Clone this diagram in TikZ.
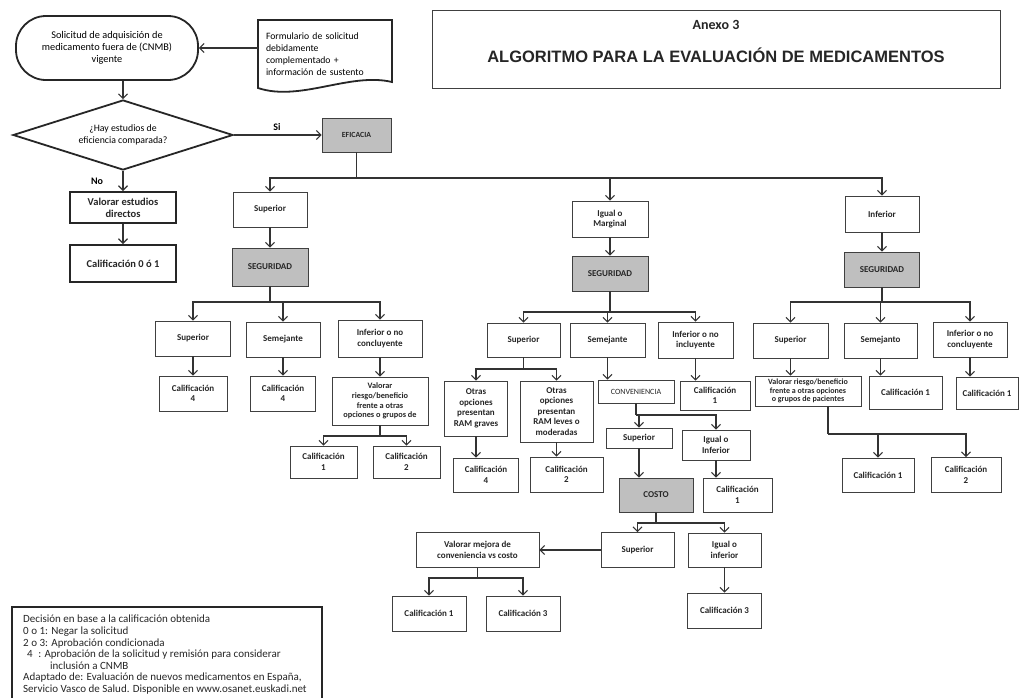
\documentclass[tikz,border=0pt]{standalone}
\usepackage{fontspec}
\setmainfont{Carlito}
\newfontfamily\arialfont{Liberation Sans}
\usetikzlibrary{arrows.meta,shapes.geometric}

\begin{document}
\begin{tikzpicture}[x=1pt, y=-1pt,
  font=\fontsize{9}{10.5}\selectfont,
  sz/.style 2 args={minimum width=#1pt, minimum height=#2pt},
  box/.style={draw=black!75, line width=0.8pt, fill=white, align=center,
              inner sep=1pt, text=black!85, font=\fontsize{9}{10.5}\selectfont\bfseries},
  gbox/.style={box, fill=gray!50, font=\fontsize{9}{10.5}\selectfont\bfseries},
  tbox/.style={box, draw=black!85, line width=2pt, font=\fontsize{10.5}{12}\selectfont\bfseries},
  arr/.style={-{Straight Barb[length=4.5pt,width=9pt]}, line width=1.1pt, draw=black!80},
  ln/.style={line width=1.1pt, draw=black!80},
  thickline/.style={line width=1.8pt, draw=black!85},
]
\useasboundingbox (0,0) rectangle (1020,697);
\fill[white] (0,0) rectangle (1020,697);

% ---- Title ----
\node[draw=black!75, line width=0.9pt, sz={568}{78}] (titbox) at (716,49) {};
\node[font=\fontsize{14}{16}\selectfont\bfseries, text=black!85] (anexo) at (716,25) {Anexo 3};
\node[font=\arialfont\fontsize{16.5}{19}\selectfont\bfseries, text=black!85] (titulo) at (716,55)
  {ALGORITMO PARA LA EVALUACIÓN DE MEDICAMENTOS};

% ---- Entry ----
\node[draw=black!85, line width=1.8pt, rounded corners=30pt, align=center, sz={182}{64},
      font=\fontsize{10.3}{11.8}\selectfont] (solic) at (107,48)
  {Solicitud de adquisición de\\medicamento fuera de (CNMB)\\vigente};
\node[align=left, sz={134}{68}, text width=118pt, font=\fontsize{9.7}{12}\selectfont] (form) at (325,54)
  {Formulario de solicitud\\debidamente\\complementado +\\información de sustento};
\draw[thickline] (258,88) -- (258,20) -- (392,20) -- (392,82)
  .. controls (350,72) and (300,102) .. (258,88) -- cycle;
\draw[arr] (form.west |- solic.east) -- (solic.east);

% ---- Decision ----
\node[diamond, aspect=3.1, draw=black!85, line width=1.8pt, inner sep=0pt, align=center,
      sz={220}{70}, font=\fontsize{9.8}{12.5}\selectfont] (hay) at (123,135)
  {¿Hay estudios de\\eficiencia comparada?};
\draw[arr] (hay.north |- solic.south) -- (hay.north);

\node[gbox, sz={69}{34}, font=\fontsize{7.8}{9}\selectfont\bfseries] (efic) at (356.5,135) {EFICACIA};
\draw[arr] (hay.east) -- (efic.west);
\node[font=\fontsize{10}{11}\selectfont\bfseries] (si) at (277,127) {Si};

\node[font=\fontsize{10}{11}\selectfont\bfseries] (no) at (97,181) {No};
\node[tbox, sz={106}{31}] (valdir) at (123,207.5) {Valorar estudios\\directos};
\node[tbox, sz={106}{37}] (cal01) at (123,263.5) {Calificación 0 ó 1};
\draw[arr] (hay.south) -- (valdir.north);
\draw[arr] (valdir) -- (cal01);

% ---- Eficacia level ----
\node[box, sz={74}{35}] (sup1) at (270,209.5) {Superior};
\node[box, sz={76}{36}] (igm) at (610,219) {Igual o\\Marginal};
\node[box, sz={74}{36}] (inf) at (882,214) {Inferior};
\node[gbox, sz={76}{38}] (seg1) at (270,267) {SEGURIDAD};
\node[gbox, sz={76}{35}] (seg2) at (610,273.5) {SEGURIDAD};
\node[gbox, sz={75}{35}] (seg3) at (882,269.5) {SEGURIDAD};

\coordinate (bEf) at (356.5,178);
\draw[ln] (efic.south) -- (bEf);
\foreach \n in {sup1, igm, inf}
  \draw[arr] (bEf) -| (\n.north);
\foreach \a/\b in {sup1/seg1, igm/seg2, inf/seg3}
  \draw[arr] (\a) -- (\b);

% ---- Left branch (Superior) ----
\node[box, sz={75}{35}] (sup2) at (193,338.5) {Superior};
\node[box, sz={74}{35}] (sem2) at (283,339.5) {Semejante};
\node[box, sz={84}{37}] (inc2) at (380,338.5) {Inferior o no\\concluyente};
\node[box, sz={68}{35}] (c4a) at (193,393.5) {Calificación\\4};
\node[box, sz={65}{35}] (c4b) at (283,393.5) {Calificación\\4};
\node[box, sz={96}{48}, font=\fontsize{8.3}{9.7}\selectfont\bfseries] (vr2) at (380,401)
  {Valorar\\riesgo/beneficio\\frente a otras\\opciones o grupos de};
\node[box, sz={67}{32}] (c1a) at (323.5,462) {Calificación\\1};
\node[box, sz={67}{32}] (c2a) at (406.5,462) {Calificación\\2};

\coordinate (bS1) at (270,302);
\draw[ln] (seg1.south) -- (bS1);
\foreach \n in {sup2, sem2, inc2}
  \draw[arr] (bS1) -| (\n.north);
\foreach \a/\b in {sup2/c4a, sem2/c4b, inc2/vr2}
  \draw[arr] (\a) -- (\b);
\coordinate (bV2) at (380,436);
\draw[ln] (vr2.south) -- (bV2);
\foreach \n in {c1a, c2a}
  \draw[arr] (bV2) -| (\n.north);

% ---- Middle branch (Igual o Marginal) ----
\node[box, sz={73}{34}] (sup3) at (523.5,340) {Superior};
\node[box, sz={75}{34}] (sem3) at (607.5,340) {Semejante};
\node[box, sz={75}{36}] (inc3) at (695.5,340) {Inferior o no\\incluyente};
\node[box, sz={63}{55}] (ot1) at (476,408.5) {Otras\\opciones\\presentan\\RAM graves};
\node[box, sz={73}{61}] (ot2) at (556.5,411.5) {Otras\\opciones\\presentan\\RAM leves o\\moderadas};
\node[box, sz={65}{34}] (c4c) at (486,475) {Calificación\\4};
\node[box, sz={73}{35}] (c2c) at (566.5,474.5) {Calificación\\2};
\node[box, sz={76}{23}, font=\fontsize{8}{10}\selectfont] (conv) at (636,391.5) {CONVENIENCIA};
\node[box, sz={70}{29}] (c1c) at (715,395.5) {Calificación\\1};
\node[box, sz={66}{20}] (sup4) at (639,438) {Superior};
\node[box, sz={68}{30}] (igi4) at (716,445) {Igual o\\Inferior};
\node[gbox, sz={74}{34}] (costo) at (656,495) {COSTO};
\node[box, sz={69}{34}] (c1d) at (737.5,495) {Calificación\\1};
\node[box, sz={73}{35}] (sup5) at (637.5,550) {Superior};
\node[box, sz={73}{34}] (igi5) at (724.5,550) {Igual o\\inferior};
\node[box, sz={123}{35}] (vm5) at (477.5,550) {Valorar mejora de\\conveniencia vs costo};
\node[box, sz={74}{35}] (c1e) at (429,613.5) {Calificación 1};
\node[box, sz={74}{35}] (c3e) at (523,613.5) {Calificación 3};
\node[box, sz={74}{35}] (c3f) at (724.5,610.5) {Calificación 3};

\coordinate (bS2) at (610,312);
\draw[ln] (seg2.south) -- (bS2);
\foreach \n in {sup3, sem3, inc3}
  \draw[arr] (bS2) -| (\n.north);
\coordinate (bSup3) at (523.5,369);
\draw[ln] (sup3.south) -- (bSup3);
\foreach \n in {ot1, ot2}
  \draw[arr] (bSup3) -| (\n.north);
\draw[arr] (ot1.south) -- (ot1.south |- c4c.north);
\draw[arr] (ot2.south) -- (ot2.south |- c2c.north);
\draw[arr] (sem3.south) -- (sem3.south |- conv.north);
\draw[arr] (inc3.south) -- (inc3.south |- c1c.north);
\coordinate (bConv) at (636,415);
\draw[ln] (conv.south) -- (bConv);
\foreach \n in {sup4, igi4}
  \draw[arr] (bConv) -| (\n.north);
\draw[arr] (sup4.south) -- (sup4.south |- costo.north);
\draw[arr] (igi4.south) -- (igi4.south |- c1d.north);
\coordinate (bCost) at (656,523);
\draw[ln] (costo.south) -- (bCost);
\foreach \n in {sup5, igi5}
  \draw[arr] (bCost) -| (\n.north);
\draw[arr] (sup5.west) -- (vm5.east);
\coordinate (bVm) at (477.5,578);
\draw[ln] (vm5.south) -- (bVm);
\foreach \n in {c1e, c3e}
  \draw[arr] (bVm) -| (\n.north);
\draw[arr] (igi5) -- (c3f);

% ---- Right branch (Inferior) ----
\node[box, sz={75}{35}] (sup6) at (790.5,340.5) {Superior};
\node[box, sz={73}{35}] (sem6) at (880.5,340.5) {Semejanto};
\node[box, sz={74}{35}] (inc6) at (970,339.5) {Inferior o no\\concluyente};
\node[box, sz={106}{30}, font=\fontsize{8}{8.3}\selectfont\bfseries] (vr6) at (808,391)
  {Valorar riesgo/beneficio\\frente a otras opciones\\o grupos de pacientes};
\node[box, sz={73}{33}] (c1g) at (905.5,392.5) {Calificación 1};
\node[box, sz={62}{32}] (c1h) at (987,393) {Calificación 1};
\node[box, sz={72}{34}] (c1i) at (878,475) {Calificación 1};
\node[box, sz={70}{35}] (c2i) at (966,475) {Calificación\\2};

\coordinate (bS3) at (882,302);
\draw[ln] (seg3.south) -- (bS3);
\foreach \n in {sup6, sem6, inc6}
  \draw[arr] (bS3) -| (\n.north);
\draw[arr] (sup6.south) -- (sup6.south |- vr6.north);
\draw[arr] (sem6.south) -- (sem6.south |- c1g.north);
\draw[arr] (inc6.south) -- (inc6.south |- c1h.north);
\coordinate (bV6) at (828,434);
\draw[ln] ([xshift=20pt]vr6.south) -- (bV6);
\foreach \n in {c1i, c2i}
  \draw[arr] (bV6) -| (\n.north);

% ---- Legend ----
\draw[thickline] (12,700) -- (12,607) -- (322,607) -- (322,700);
\node[anchor=north west, align=left, inner sep=0pt, text=black!85,
      font=\fontsize{11}{11.6}\selectfont] (leyenda) at (23,615)
  {Decisión en base a la calificación obtenida\\
   0 o 1: Negar la solicitud\\
   2 o 3: Aprobación condicionada\\
   \hspace*{4pt}4\enspace: Aprobación de la solicitud y remisión para considerar\\
   \hspace*{27pt}inclusión a CNMB\\
   Adaptado de: Evaluación de nuevos medicamentos en España,\\
   Servicio Vasco de Salud. Disponible en www.osanet.euskadi.net};
\end{tikzpicture}
\end{document}
